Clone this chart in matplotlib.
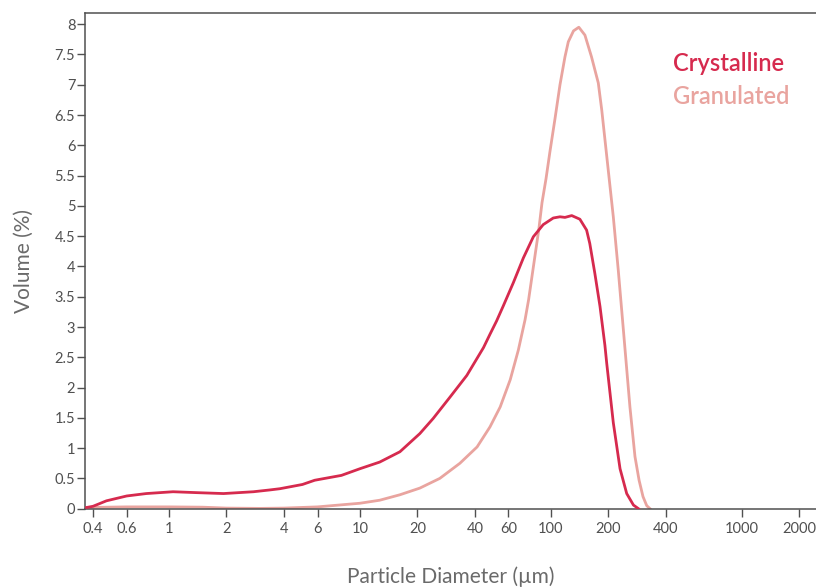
import matplotlib
matplotlib.use("Agg")
import matplotlib.pyplot as plt
from matplotlib.ticker import FixedLocator, FixedFormatter, NullLocator

plt.rcParams["font.family"] = ["Lato", "DejaVu Sans"]

# particle size distribution (diameter in um, volume %)
cryst_d = [0.37, 0.40, 0.47, 0.60, 0.76, 1.05, 1.40, 1.93, 2.77, 3.38, 3.81,
           5.0, 5.8, 8.0, 10.0, 12.7, 16.2, 20.6, 24.2, 29.6, 36.3, 44.4,
           48.0, 52.0, 56.4, 63.6, 71.8, 81.0, 91.2, 103.0, 111.7, 118.6,
           128.7, 142.0, 154.0, 160.0, 170.0, 181.0, 192.0, 196.3, 212.5,
           230.5, 249.8, 270.9, 288.0]
cryst_v = [0.02, 0.04, 0.13, 0.21, 0.25, 0.28, 0.265, 0.25, 0.28, 0.31, 0.33,
           0.40, 0.47, 0.55, 0.66, 0.77, 0.94, 1.24, 1.49, 1.84, 2.20, 2.66,
           2.88, 3.10, 3.35, 3.73, 4.14, 4.49, 4.69, 4.80, 4.82, 4.81,
           4.84, 4.78, 4.60, 4.38, 3.89, 3.34, 2.70, 2.40, 1.42,
           0.66, 0.25, 0.06, 0.0]

gran_d = [0.37, 0.6, 1.0, 1.5, 2.0, 3.0, 4.0, 6.0, 10.0, 12.7, 16.2, 20.6,
          26.2, 33.4, 41.1, 48.0, 54.3, 61.3, 67.6, 73.3, 76.5, 86.6, 89.9,
          94.4, 99.0, 105.3, 111.7, 118.6, 123.5, 131.5, 140.2, 150.9, 163.4,
          177.3, 184.9, 196.5, 212.5, 225.6, 240.0, 259.7, 276.0, 290.0,
          304.0, 318.0, 331.0]
gran_v = [0.02, 0.03, 0.03, 0.025, 0.01, 0.005, 0.01, 0.03, 0.09, 0.14, 0.23, 0.34,
          0.50, 0.75, 1.02, 1.35, 1.68, 2.13, 2.62, 3.12, 3.45, 4.62, 5.05,
          5.45, 5.90, 6.45, 7.0, 7.46, 7.71, 7.89, 7.95, 7.82, 7.46,
          7.03, 6.58, 5.81, 4.82, 3.94, 2.95, 1.68, 0.86, 0.47,
          0.20, 0.05, 0.0]

x_ticks = [0.4, 0.6, 1, 2, 4, 6, 10, 20, 40, 60, 100, 200, 400, 1000, 2000]
x_tick_labels = ["0.4", "0.6", "1", "2", "4", "6", "10", "20", "40", "60",
                 "100", "200", "400", "1000", "2000"]
y_ticks = [i * 0.5 for i in range(17)]
y_tick_labels = [f"{v:g}" for v in y_ticks]

CRYST = "#d62a4e"
GRAN = "#e9a49f"
AXIS = "#505050"

fig = plt.figure(figsize=(8.16, 5.88), dpi=100)
ax = fig.add_axes([85 / 816, 1 - 508.7 / 588, 731 / 816, (508.7 - 13.3) / 588])

ax.plot(gran_d, gran_v, color=GRAN, lw=2.0, solid_joinstyle="round", zorder=2)
ax.plot(cryst_d, cryst_v, color=CRYST, lw=2.0, solid_joinstyle="round", zorder=3)

ax.set_xscale("log")
ax.set_xlim(0.363, 2450)
ax.set_ylim(0, 8.18)

ax.xaxis.set_major_locator(FixedLocator(x_ticks))
ax.xaxis.set_major_formatter(FixedFormatter(x_tick_labels))
ax.xaxis.set_minor_locator(NullLocator())
ax.yaxis.set_major_locator(FixedLocator(y_ticks))
ax.yaxis.set_major_formatter(FixedFormatter(y_tick_labels))

for side in ("left", "bottom", "top"):
    ax.spines[side].set_color(AXIS)
    ax.spines[side].set_linewidth(1.1)
ax.spines["right"].set_visible(False)

ax.tick_params(axis="both", colors=AXIS, width=1.0, length=5.5, labelsize=10.5)
ax.tick_params(axis="y", pad=1.5)
ax.tick_params(axis="x", pad=4)

ax.set_xlabel("Particle Diameter (µm)", fontsize=15, color="#6a6a6a", labelpad=22)
ax.set_ylabel("Volume (%)", fontsize=15, color="#6a6a6a", labelpad=15)

ax.text(0.804, 0.898, "Crystalline", transform=ax.transAxes, color=CRYST,
        fontsize=17, fontweight="semibold", va="center", ha="left")
ax.text(0.804, 0.832, "Granulated", transform=ax.transAxes, color=GRAN,
        fontsize=17, fontweight="semibold", va="center", ha="left")

fig.savefig("out.png", dpi=100)
